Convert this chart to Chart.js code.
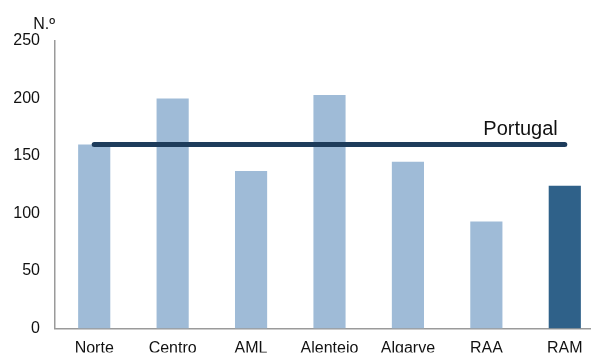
<!DOCTYPE html>
<html>
<head>
<meta charset="utf-8">
<script src="https://cdn.jsdelivr.net/npm/chart.js@4/dist/chart.umd.min.js"></script>
<style>
  html, body { margin: 0; padding: 0; background: #fff; overflow: hidden; }
  #wrap { width: 604px; height: 353px; }
</style>
</head>
<body>
<div id="wrap"><canvas id="c"></canvas></div>
<script>
// Regions and their values (N.º)
const regions = ['Norte', 'Centro', 'AML', 'Alentejo', 'Algarve', 'RAA', 'RAM'];
const regionValues = [160, 200, 137, 203, 145, 93, 124];
// National reference level
const portugalLabel = 'Portugal';
const portugalValue = 160;
const yTicks = [0, 50, 100, 150, 200, 250];

const FONT = 'Liberation Sans, Arial, sans-serif';
const barColors = regions.map(r => r === 'RAM' ? '#2f6189' : '#9fbbd7');

// Writes the reference line's label just above its right end
const refLabel = {
  id: 'refLabel',
  afterDatasetsDraw(chart) {
    const meta = chart.getDatasetMeta(1);
    const last = meta.data[meta.data.length - 1];
    const ctx = chart.ctx;
    ctx.save();
    ctx.font = '20px ' + FONT;
    ctx.fillStyle = '#111';
    ctx.textAlign = 'right';
    ctx.textBaseline = 'alphabetic';
    ctx.fillText(portugalLabel, last.x - 7, last.y - 9);
    ctx.restore();
  }
};

// Unit caption above the value axis
const unitLabel = {
  id: 'unitLabel',
  afterDraw(chart) {
    const ctx = chart.ctx;
    const y = chart.scales.y;
    ctx.save();
    ctx.font = '16px ' + FONT;
    ctx.fillStyle = '#111';
    ctx.textAlign = 'right';
    ctx.textBaseline = 'alphabetic';
    ctx.fillText('N.º', y.right, y.top - 12);
    ctx.restore();
  }
};

new Chart(document.getElementById('c'), {
  data: {
    labels: regions,
    datasets: [
      {
        type: 'bar',
        data: regionValues,
        backgroundColor: barColors,
        categoryPercentage: 1,
        barPercentage: 0.41,
        order: 2
      },
      {
        type: 'line',
        data: regions.map(() => portugalValue),
        borderColor: '#1e3c5b',
        borderWidth: 5,
        borderCapStyle: 'round',
        pointRadius: 0,
        fill: false,
        order: 1
      }
    ]
  },
  options: {
    responsive: true,
    maintainAspectRatio: false,
    animation: false,
    layout: { padding: { top: 41, left: 0, right: 0, bottom: 0 } },
    plugins: { legend: { display: false }, tooltip: { enabled: false } },
    scales: {
      x: {
        grid: { display: false, drawTicks: false },
        border: { color: '#9a9a9a', width: 1.5 },
        ticks: { color: '#111', font: { family: FONT, size: 16 }, padding: 11, maxRotation: 0, autoSkip: false },
        afterFit(scale) { scale.height = 24; }
      },
      y: {
        min: 0,
        max: 250,
        grid: { display: false, drawTicks: false },
        border: { color: '#9a9a9a', width: 1.5 },
        afterBuildTicks(scale) { scale.ticks = yTicks.map(v => ({ value: v })); },
        ticks: { color: '#111', font: { family: FONT, size: 16 }, padding: 15 },
        afterFit(scale) { scale.width = 55; }
      }
    }
  },
  plugins: [refLabel, unitLabel]
});
</script>
</body>
</html>
